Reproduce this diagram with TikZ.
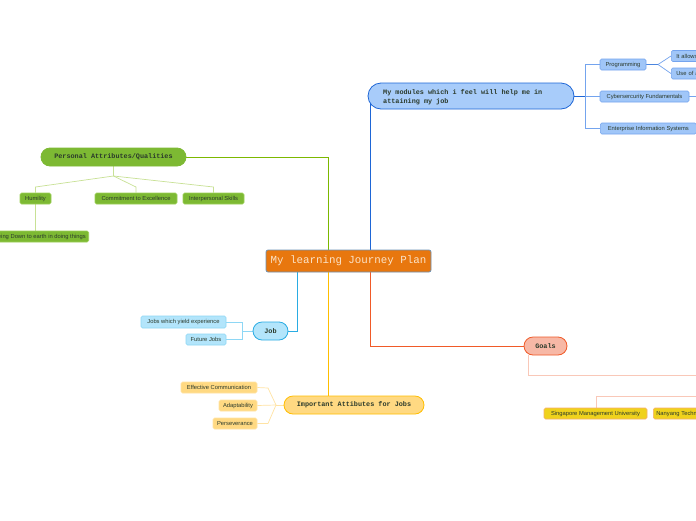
\documentclass[tikz,border=0pt]{standalone}
\usepackage{fontspec}
\setmainfont{Liberation Sans}
\newfontfamily\mymono{Liberation Mono}
\usetikzlibrary{backgrounds}
\definecolor{cOrange}{HTML}{E8770E}
\definecolor{cCentralBorder}{HTML}{6A92B8}
\definecolor{cCentralText}{HTML}{FBE3C8}
\definecolor{cModFill}{HTML}{A8CCFA}
\definecolor{cModLine}{HTML}{1E66D6}
\definecolor{cModChildFill}{HTML}{A0C6F8}
\definecolor{cModChildLine}{HTML}{74A4EE}
\definecolor{cGreen}{HTML}{7DB933}
\definecolor{cGreenLine}{HTML}{7CB800}
\definecolor{cGreenBorder}{HTML}{9CCF55}
\definecolor{cGreenLight}{HTML}{C8E195}
\definecolor{cJobFill}{HTML}{B3E5FB}
\definecolor{cJobLine}{HTML}{2AACE3}
\definecolor{cJobLight}{HTML}{8ED7F5}
\definecolor{cImpFill}{HTML}{FFD982}
\definecolor{cImpLine}{HTML}{FFBE00}
\definecolor{cImpLight}{HTML}{FFE3A3}
\definecolor{cGoalFill}{HTML}{F7B8A6}
\definecolor{cGoalLine}{HTML}{F05A28}
\definecolor{cGoalLight}{HTML}{F9C8B8}
\definecolor{cUniFill}{HTML}{EFD21C}
\definecolor{cUniBorder}{HTML}{F5AE6A}
\definecolor{cText}{HTML}{2B3A2B}
\tikzset{
  mainbranch/.style={draw, line width=0.8pt, rounded corners=9pt, inner sep=0pt,
    font=\mymono\bfseries\fontsize{6.8}{8}\selectfont, text=cText},
  leafbox/.style={draw, line width=0.6pt, rounded corners=1.5pt, inner sep=0pt,
    minimum height=11pt, font=\fontsize{5.8}{6.5}\selectfont, text=cText},
  conn/.style={line width=0.9pt},
  thin/.style={line width=0.7pt},
}
\begin{document}
\begin{tikzpicture}[x=1pt,y=-1pt]
\useasboundingbox (0,0) rectangle (696,520);

% central
\node[draw=cCentralBorder, fill=cOrange, line width=0.7pt, rounded corners=2pt,
  minimum width=165pt, minimum height=22pt, inner sep=0pt,
  font=\mymono\fontsize{10.8}{12}\selectfont, text=cCentralText] (central) at (348.5,261) {My learning Journey Plan};

% modules
\node[mainbranch, draw=cModLine, fill=cModFill, rounded corners=13pt, minimum width=206pt, minimum height=26pt] (modules) at (471,96) {};
\node[anchor=west, font=\mymono\bfseries\fontsize{6.8}{8.5}\selectfont, text=cText, align=left, inner sep=0pt] (modtext) at (383,97) {My modules which i feel will help me in\\attaining my job};
\node[leafbox, draw=cModChildLine, fill=cModChildFill, minimum width=46pt] (prog) at (623,64.5) {Programming};
\node[leafbox, draw=cModChildLine, fill=cModChildFill, minimum width=60pt, anchor=west, text width=56pt, align=left] (allow) at (671,56) {\hspace*{3pt}It allows};
\node[leafbox, draw=cModChildLine, fill=cModChildFill, minimum width=60pt, anchor=west, text width=56pt, align=left] (useof) at (671,73.5) {\hspace*{3pt}Use of an};
\node[leafbox, draw=cModChildLine, fill=cModChildFill, minimum width=89pt] (cyber) at (644.5,96.5) {Cybersercurity Fundamentals};
\node[leafbox, draw=cModChildLine, fill=cModChildFill, minimum width=96pt, anchor=west] (eis) at (600,128.5) {Enterprise Information Systems};
\coordinate (cyberend) at (696,96.5);

% personal
\node[mainbranch, draw=cGreen, fill=cGreen, minimum width=145pt, minimum height=18pt, text=cText] (personal) at (113.5,157) {Personal Attributes/Qualities};
\node[leafbox, draw=cGreenBorder, fill=cGreen, minimum width=31pt] (humility) at (35.5,198.5) {Humility};
\node[leafbox, draw=cGreenBorder, fill=cGreen, minimum width=82pt] (commit) at (136,198.5) {Commitment to Excellence};
\node[leafbox, draw=cGreenBorder, fill=cGreen, minimum width=61pt] (inter) at (213.5,198.5) {Interpersonal Skills};
\node[leafbox, draw=cGreenBorder, fill=cGreen, anchor=east, inner xsep=3pt] (earth) at (89,236.5) {Being Down to earth in doing things};

% job
\node[mainbranch, draw=cJobLine, fill=cJobFill, minimum width=35pt, minimum height=18pt] (job) at (270.5,331) {Job};
\node[leafbox, draw=cJobLight, fill=cJobFill, minimum width=85pt, minimum height=12pt] (yield) at (183.5,322) {Jobs which yield experience};
\node[leafbox, draw=cJobLight, fill=cJobFill, minimum width=40pt] (future) at (206,339.5) {Future Jobs};

% important
\node[mainbranch, draw=cImpLine, fill=cImpFill, minimum width=140pt, minimum height=18pt] (imp) at (354,405) {Important Attibutes for Jobs};
\node[leafbox, draw=cImpLight, fill=cImpFill, minimum width=76pt] (effc) at (219,387.5) {Effective Communication};
\node[leafbox, draw=cImpLight, fill=cImpFill, minimum width=38pt] (adapt) at (238,405.5) {Adaptability};
\node[leafbox, draw=cImpLight, fill=cImpFill, minimum width=44pt] (perse) at (235,423.5) {Perseverance};

% goals
\node[mainbranch, draw=cGoalLine, fill=cGoalFill, minimum width=43pt, minimum height=18pt] (goals) at (545.5,346) {Goals};
\node[leafbox, draw=cUniBorder, fill=cUniFill, minimum width=103pt] (smu) at (595.5,413.5) {Singapore Management University};
\node[leafbox, draw=cUniBorder, fill=cUniFill, anchor=west, text width=100pt, align=left] (ntu) at (653,413.5) {\hspace*{3pt}Nanyang Technological University};
\coordinate (goalend) at (696,375);
\coordinate (uniend) at (696,396);

\begin{scope}[on background layer]
\fill[white] (0,0) rectangle (696,520);
% central connectors
\draw[conn, cModLine] (370,250) -- (370,96);
\draw[conn, cGreenLine] (328,250) |- (personal.east);
\draw[conn, cJobLine] (297,272) |- (job.east);
\draw[conn, cImpLine] (328,272) -- (328,396);
\draw[conn, cGoalLine] (370,272) |- (goals.west);

% modules children
\draw[conn, cModLine] (modules.east) -- (585,96);
\draw[thin, cModChildLine] (585,64.5) -- (585,128.5);
\draw[thin, cModChildLine] (585,64.5) -- (prog.west);
\draw[thin, cModChildLine] (585,96.5) -- (cyber.west);
\draw[thin, cModChildLine] (585,128.5) -- (eis.west);
\draw[conn, cModLine!80] (prog.east) -- (658,64.5);
\draw[thin, cModChildLine] (658,64.5) -- (allow.west);
\draw[thin, cModChildLine] (658,64.5) -- (useof.west);
\draw[thin, cModChildLine] (cyber.east) -- (cyberend);

% personal children
\draw[thin, cGreenLight] (personal.south) -- (113.5,176);
\draw[thin, cGreenLight] (113.5,176) -- (35.5,187) -- (humility.north);
\draw[thin, cGreenLight] (113.5,176) -- (136,187) -- (commit.north);
\draw[thin, cGreenLight] (113.5,176) -- (213.5,187) -- (inter.north);
\draw[thin, cGreenLight] (humility.south) -- (35.5,231);

% job children
\draw[thin, cJobLight] (job.west) -- (242,331);
\draw[thin, cJobLight] (242,322) -- (242,339.5);
\draw[thin, cJobLight] (242,322) -- (yield.east);
\draw[thin, cJobLight] (242,339.5) -- (future.east);

% important children
\draw[thin, cImpLight] (imp.west) -- (276,405);
\draw[thin, cImpLight] (276,405) -- (268,388) -- (effc.east);
\draw[thin, cImpLight] (276,405) -- (adapt.east);
\draw[thin, cImpLight] (276,405) -- (268,423.5) -- (perse.east);

% goals children
\draw[thin, cGoalLight] (528,355) |- (goalend);
\draw[thin, cGoalLight] (uniend) -| (596,408);
\end{scope}
\end{tikzpicture}
\end{document}
